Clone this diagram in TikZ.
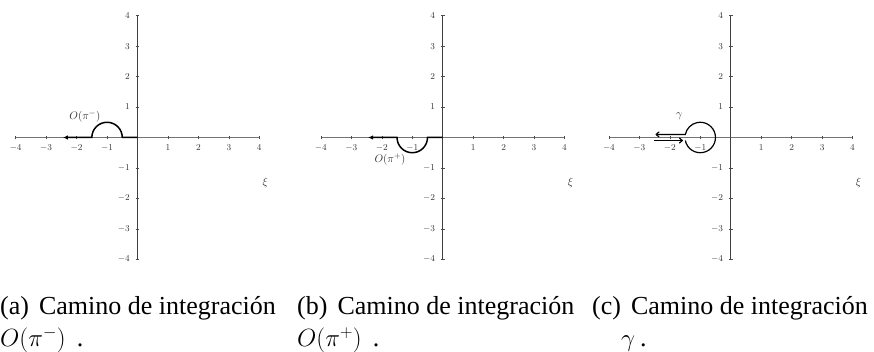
\documentclass[tikz,border=0pt]{standalone}
\usepackage{fontspec}
\setmainfont{Liberation Serif}
\usetikzlibrary{arrows.meta}
\colorlet{axxcol}{black!55}
\colorlet{axycol}{black!75}
\colorlet{labcol}{black!80}
\tikzset{
  axx/.style={draw=axxcol,line width=1pt},
  axy/.style={draw=axycol,line width=0.85pt},
  tickst/.style={draw=black!70,line width=0.6pt},
  ticklab/.style={font=\fontsize{9.5}{11}\selectfont,text=labcol,inner sep=0pt},
  curvelab/.style={font=\fontsize{11}{13}\selectfont,text=labcol,inner sep=0pt},
  pathline/.style={draw=black,line width=1.5pt},
  keyline/.style={draw=black,line width=1.2pt},
  captxt/.style={font=\fontsize{26}{32}\selectfont,inner sep=0pt,anchor=base west},
  panel/.style={x=30.45pt,y=30.45pt}
}
\newcommand\myaxes[1]{%
  \draw[axx] (-4,0) -- (4,0);
  \draw[axy] (0,-4) -- (0,4);
  \foreach \i in {-4,-3,-2,-1,1,2,3,4} {
    \draw[tickst] (\i,-0.06) -- (\i,0.06);
    \node[ticklab,anchor=north] (#1x\i) at ([yshift=-7.5pt]\i,0) {$\i$};
    \draw[tickst] (-0.06,\i) -- (0.06,\i);
    \node[ticklab,anchor=east] (#1y\i) at ([xshift=-7.5pt]0,\i) {$\i$};
  }
  \node[curvelab] (#1xi) at (4.2,-1.48) {$\xi$};
}
\begin{document}
\begin{tikzpicture}[x=1pt,y=1pt]
\useasboundingbox (0,0) rectangle (874,352);

% panel (a)
\begin{scope}[shift={(137.5,214.5)},panel]
  \myaxes{a}
  \draw[pathline,-{Latex[length=5pt,width=4.5pt]}] (0,0) -- (-0.5,0) arc[start angle=0,end angle=180,radius=0.5] -- (-2.45,0);
  \node[curvelab] (alab) at (-1.73,0.68) {$O(\pi^{-})$};
\end{scope}

% panel (b)
\begin{scope}[shift={(442.7,214.5)},panel]
  \myaxes{b}
  \draw[pathline,-{Latex[length=5pt,width=4.5pt]}] (0,0) -- (-0.5,0) arc[start angle=0,end angle=-180,radius=0.5] -- (-2.45,0);
  \node[curvelab] (blab) at (-1.73,-0.72) {$O(\pi^{+})$};
\end{scope}

% panel (c)
\begin{scope}[shift={(730.7,214.5)},panel]
  \myaxes{c}
  \coordinate (cin0) at (-2.52,-0.1);
  \coordinate (cin1) at (-1.57,-0.1);
  \draw[keyline,-{To[length=4pt,width=6pt]}] (cin0) -- (cin1);
  \draw[keyline,-{To[length=4pt,width=6pt]}] (-1.49,-0.1) arc[start angle=191.54,end angle=528.46,radius=0.5] -- (-2.47,0.1);
  \node[curvelab] (clab) at (-1.69,0.71) {$\gamma$};
\end{scope}

% captions
\node[captxt] (capa1) at (0,37) {(a)\hspace{10pt}Camino de integración};
\node[captxt] (capa2) at (0,5) {$O(\pi^{-})$\hspace{11pt}.};
\node[captxt] (capb1) at (297,37) {(b)\hspace{10pt}Camino de integración};
\node[captxt] (capb2) at (297,5) {$O(\pi^{+})$\hspace{11pt}.};
\node[captxt] (capc1) at (592,37) {(c)\hspace{10pt}Camino de integración};
\node[captxt] (capc2) at (621,5) {$\gamma$\hspace{5pt}.};
\end{tikzpicture}
\end{document}
